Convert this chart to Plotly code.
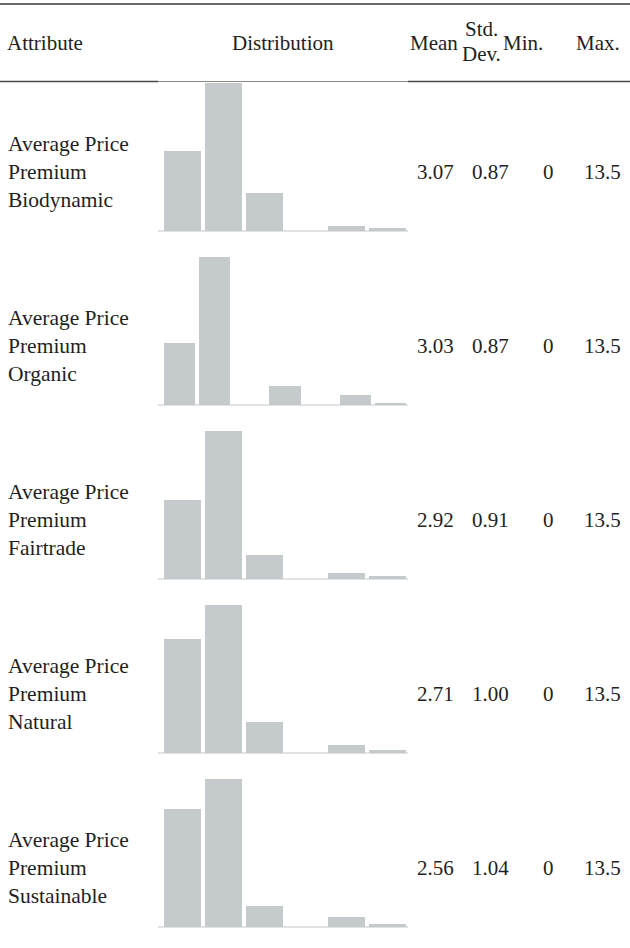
import plotly.graph_objects as go

# ---------------- data ----------------
label_lines = [
    ["Average Price", "Premium", "Biodynamic"],
    ["Average Price", "Premium", "Organic"],
    ["Average Price", "Premium", "Fairtrade"],
    ["Average Price", "Premium", "Natural"],
    ["Average Price", "Premium", "Sustainable"],
]
# relative bin heights of each distribution (tallest bin = 100)
dist_biodynamic = [54, 100, 26, 0, 3.5, 2]
dist_organic = [42, 100, 0, 12.6, 0, 6.8, 1.5]
dist_fairtrade = [53.6, 100, 16.4, 0, 3.9, 2.2]
dist_natural = [77, 100, 21, 0, 5.3, 1.8]
dist_sustainable = [80, 100, 14.2, 0, 6.7, 2.2]
distributions = [dist_biodynamic, dist_organic, dist_fairtrade, dist_natural, dist_sustainable]

means = ["3.07", "3.03", "2.92", "2.71", "2.56"]
std_devs = ["0.87", "0.87", "0.91", "1.00", "1.04"]
mins = ["0", "0", "0", "0", "0"]
maxs = ["13.5", "13.5", "13.5", "13.5", "13.5"]

headers = ["Attribute", "Distribution", "Mean", "Min.", "Max."]
header_sd = ["Std.", "Dev."]

# ---------------- layout constants ----------------
W, H = 630, 948
FONT = dict(family="Liberation Serif", size=21, color="#231f20")
LABEL_SIZE = 21.5
BAR_COLOR = "#c5cacc"
HEADER_RULE_Y = 81.5
ROW_PITCH = 174
HIST_X0, HIST_X1 = 162, 408
BASE_X0 = 158


def px(x):
    return x / W


def py(y):
    return 1 - y / H


def note(text, x, y, xanchor="center", align="center", size=None):
    d = dict(text=text, x=px(x), y=py(y), xref="paper", yref="paper",
             xanchor=xanchor, yanchor="middle", align=align, showarrow=False)
    if size:
        d["font"] = dict(size=size)
    return d


fig = go.Figure()
shapes = []
annotations = []

for i, dist in enumerate(distributions):
    k = i + 1
    row_top = HEADER_RULE_Y + i * ROW_PITCH
    top = row_top + 1.5
    base = row_top + 149.5
    n = len(dist)
    fig.add_trace(go.Bar(
        x=list(range(n)), y=dist, width=0.92 if n == 6 else 0.89,
        marker=dict(color=BAR_COLOR, line=dict(width=0)),
        xaxis=f"x{k}", yaxis=f"y{k}", showlegend=False, hoverinfo="skip",
    ))
    fig.layout[f"xaxis{k}"] = dict(domain=[px(HIST_X0), px(HIST_X1)], range=[-0.5, n - 0.5],
                                   visible=False, fixedrange=True, anchor=f"y{k}")
    fig.layout[f"yaxis{k}"] = dict(domain=[py(base), py(top)], range=[0, max(dist)],
                                   visible=False, fixedrange=True, anchor=f"x{k}")
    shapes.append(dict(type="line", xref="paper", yref="paper",
                       x0=px(BASE_X0), x1=px(HIST_X1), y0=py(base), y1=py(base),
                       line=dict(color="#c3c8ca", width=1.2)))
    yc = row_top + 90
    annotations.append(note("<br>".join(label_lines[i]), 6, yc, xanchor="left", align="left",
                            size=LABEL_SIZE))
    for val, xc in zip([means[i], std_devs[i], mins[i], maxs[i]], [435, 490, 548, 602]):
        annotations.append(note(val, xc, yc))

# header
annotations.append(note(headers[0], 5, 43, xanchor="left", align="left"))
for txt, xc in zip(headers[1:], [283, 434, 523, 598]):
    annotations.append(note(txt, xc, 43))
annotations.append(note(header_sd[0], 482, 29))
annotations.append(note(header_sd[1], 482, 54))

# rules
def hline(x0, x1, y, color, width):
    return dict(type="line", xref="paper", yref="paper", x0=px(x0), x1=px(x1), y0=py(y), y1=py(y),
                line=dict(color=color, width=width))


shapes.append(hline(0, W, 4, "#3a3a3a", 1.5))
shapes.append(hline(0, BASE_X0, HEADER_RULE_Y, "#4a4a4a", 1.5))
shapes.append(hline(BASE_X0, HIST_X1, HEADER_RULE_Y, "#8a8a8a", 1))
shapes.append(hline(HIST_X1, W, HEADER_RULE_Y, "#4a4a4a", 1.5))

fig.update_layout(
    width=W, height=H, margin=dict(l=0, r=0, t=0, b=0),
    paper_bgcolor="white", plot_bgcolor="white",
    font=FONT, shapes=shapes, annotations=annotations, bargap=0,
)

fig.write_html("out.html", config={"displayModeBar": False},
               post_script="document.body.style.margin='0px';document.body.style.overflow='hidden';")
